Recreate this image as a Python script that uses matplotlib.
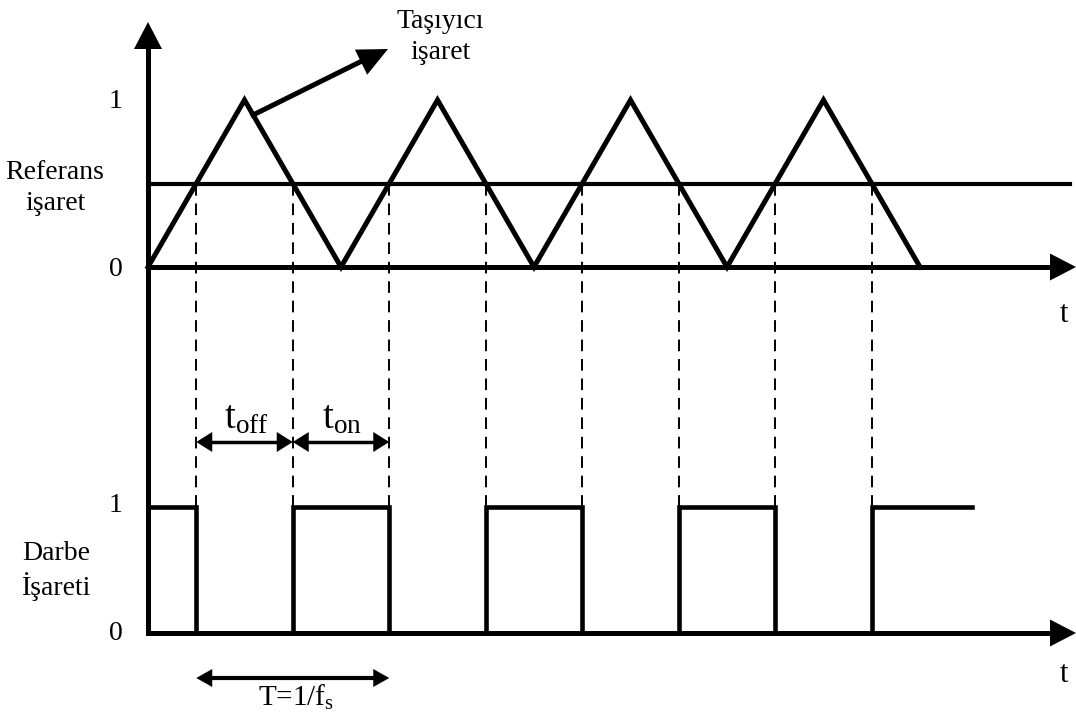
import matplotlib.pyplot as plt
import numpy as np
from matplotlib.patches import Polygon

plt.rcParams['font.family'] = ['Liberation Serif', 'DejaVu Serif']
plt.rcParams['mathtext.fontset'] = 'custom'
plt.rcParams['mathtext.rm'] = 'Liberation Serif'
plt.rcParams['mathtext.it'] = 'Liberation Serif'

# carrier (triangle) and reference, time in carrier periods
carrier_t = [0, 0.5, 1, 1.5, 2, 2.5, 3, 3.5, 4]
carrier_v = [0, 1, 0, 1, 0, 1, 0, 1, 0]
reference = 0.5
# pulse signal edges and levels
pulse_t = [0, 0.25, 0.75, 1.25, 1.75, 2.25, 2.75, 3.25, 3.75, 4.27]
pulse_v = [1, 0, 1, 0, 1, 0, 1, 0, 1]
crossings = [0.25, 0.75, 1.25, 1.75, 2.25, 2.75, 3.25, 3.75]

# diagram placement (pixels)
X0, PER = 148, 193
TOP0, TOP1 = 267, 100
BOT0, BOT1 = 633, 507


def X(t):
    return X0 + PER * np.asarray(t, dtype=float)


def YT(v):
    return TOP0 - (TOP0 - TOP1) * np.asarray(v, dtype=float)


def YB(v):
    return BOT0 - (BOT0 - BOT1) * np.asarray(v, dtype=float)


fig = plt.figure(figsize=(10.76, 7.13), dpi=100)
ax = fig.add_axes([0, 0, 1, 1])
ax.set_xlim(0, 1076)
ax.set_ylim(713, 0)
ax.axis('off')


def head(tip, frm, L, W):
    tip = np.array(tip, float)
    u = tip - np.array(frm, float)
    u /= np.hypot(*u)
    n = np.array([-u[1], u[0]])
    b = tip - L * u
    ax.add_patch(Polygon([tip, b + n * W / 2, b - n * W / 2], closed=True,
                         color='black', lw=0, zorder=5))


def darrow(x1, x2, y, L=16, W=20, lw=2.5):
    ax.plot([x1 + L * 0.6, x2 - L * 0.6], [y, y], color='black', lw=lw)
    head((x1, y), (x2, y), L, W)
    head((x2, y), (x1, y), L, W)


k = 'black'
# axes
ax.plot([X0, X0], [48, BOT0], color=k, lw=3.6, solid_capstyle='butt')
head((X0, 22), (X0, 100), 27, 28)
ax.plot([X0, 1052], [TOP0, TOP0], color=k, lw=3.6)
head((1076, TOP0), (900, TOP0), 26, 27)
ax.plot([X0, 1052], [BOT0, BOT0], color=k, lw=3.6)
head((1076, BOT0), (900, BOT0), 26, 27)

# carrier and reference
ax.plot(X(carrier_t), YT(carrier_v), color=k, lw=3.6, solid_joinstyle='miter')
ax.plot([X0, 1070], [YT(reference), YT(reference)], color=k, lw=3.0)

# dashed projections
for c in crossings:
    ax.plot([X(c), X(c)], [YT(reference), BOT1], color=k, lw=1.4,
            dashes=(6, 4))

# pulse signal
px, py = [], []
for i, v in enumerate(pulse_v):
    px += [X(pulse_t[i]), X(pulse_t[i + 1])]
    py += [YB(v), YB(v)]
ax.plot(px, py, color=k, lw=3.3, solid_joinstyle='miter')

# carrier pointer
ax.plot([253, 370], [115, 57], color=k, lw=3.6)
head((388, 49), (253, 115), 30, 28)
ax.text(440, 37, 'Taşıyıcı\nişaret', fontsize=20, ha='center', va='center',
        linespacing=1.35)

# level labels
fs = 20
ax.text(116, 102, '1', fontsize=fs, ha='center', va='center')
ax.text(116, 269, '0', fontsize=fs, ha='center', va='center')
ax.text(116, 506, '1', fontsize=fs, ha='center', va='center')
ax.text(116, 633, '0', fontsize=fs, ha='center', va='center')
ax.text(55, 188, 'Referans\nişaret', fontsize=fs, ha='center', va='center',
        linespacing=1.3)
ax.text(56, 571, 'Darbe\nİşareti', fontsize=fs, ha='center', va='center',
        linespacing=1.3)
ax.text(1064, 315, 't', fontsize=22, ha='center', va='center')
ax.text(1064, 675, 't', fontsize=22, ha='center', va='center')

# durations
darrow(X(0.25), X(0.75), 442)
darrow(X(0.75), X(1.25), 442)
ax.text(X(0.5) + 2, 428, r'$\mathrm{t_{off}}$', fontsize=28, ha='center',
        va='baseline')
ax.text(X(1.0) + 1, 428, r'$\mathrm{t_{on}}$', fontsize=28, ha='center',
        va='baseline')
darrow(X(0.25), X(1.25), 678, L=16, W=18, lw=3.0)
ax.text(296, 697, r'T=1/f$_\mathrm{s}$', fontsize=21, ha='center',
        va='center')

fig.savefig('out.png', dpi=100)
